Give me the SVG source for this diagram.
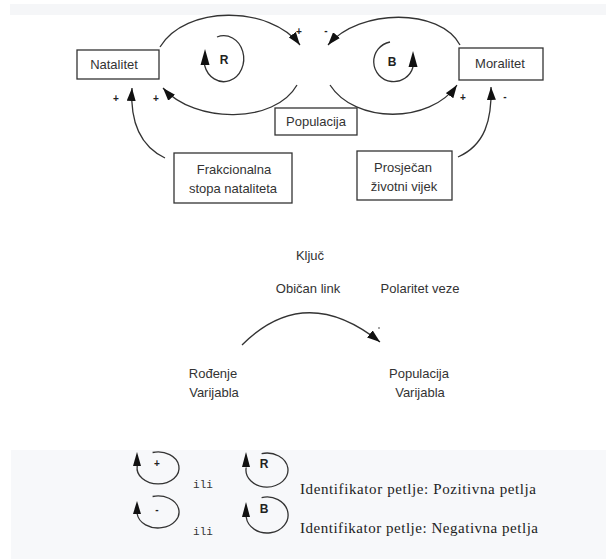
<svg xmlns="http://www.w3.org/2000/svg" width="606" height="559" viewBox="0 0 606 559">
<style>
.box{fill:#fff;stroke:#333;stroke-width:1.3}
.lbl{font-family:"Liberation Sans",Arial,sans-serif;font-size:13px;fill:#333;text-anchor:middle}
.sign{font-family:"Liberation Sans",Arial,sans-serif;font-size:10px;font-weight:bold;fill:#222;text-anchor:middle}
.loopl{font-family:"Liberation Sans",Arial,sans-serif;font-size:12px;font-weight:bold;fill:#222;text-anchor:middle}
.link{fill:none;stroke:#333;stroke-width:1.3}
.head{fill:#111}
.ser{font-family:"Liberation Serif","Times New Roman",serif;font-size:15px;fill:#222}
.mono{font-family:"Liberation Mono","Courier New",monospace;font-size:11px;fill:#333;text-anchor:middle}
</style>
<defs>
<marker id="ah" markerUnits="userSpaceOnUse" markerWidth="13" markerHeight="9" refX="13" refY="4.5" orient="auto">
<path d="M0,0 L13,4.5 L0,9 z" fill="#111"/>
</marker>
</defs>
<rect width="606" height="559" fill="#fff"/>
<rect x="10" y="4" width="596" height="11" fill="#f5f6f8"/>
<rect x="11" y="450" width="595" height="109" fill="#f7f8fa"/>

<g id="connectors">
<path class="link" d="M160,47 C185,5 270,5 300,45" marker-end="url(#ah)"/>
<path class="link" d="M297,85 C275,124 195,124 163,88" marker-end="url(#ah)"/>
<path class="link" d="M460,45 C440,8 360,8 328,45" marker-end="url(#ah)"/>
<path class="link" d="M330,85 C355,124 430,124 457,85" marker-end="url(#ah)"/>
<path class="link" d="M165,158 C140,146 130,122 132,88" marker-end="url(#ah)"/>
<path class="link" d="M458,157 C485,145 492,120 491,87" marker-end="url(#ah)"/>
<path class="link" d="M242,345 Q305,282 380,342" marker-end="url(#ah)"/>
</g>

<g id="loop-R">
<path class="link" d="M217,37 A20,23 0 1 1 204.5,65"/>
<polygon class="head" points="205,49 200.5,65 209.5,65"/>
<text class="loopl" x="224" y="64">R</text>
</g>
<g id="loop-B">
<path class="link" d="M390,42 A20,20 0 1 0 413,67"/>
<polygon class="head" points="413,51 408.5,67 417.5,67"/>
<text class="loopl" x="392" y="66">B</text>
</g>

<g id="natalitet">
<rect class="box" x="77" y="50" width="82" height="29"/>
<text class="lbl" x="114" y="69">Natalitet</text>
</g>
<g id="moralitet">
<rect class="box" x="459" y="48" width="84" height="32"/>
<text class="lbl" x="500" y="68">Moralitet</text>
</g>
<g id="populacija">
<rect class="box" x="275" y="108" width="82" height="27"/>
<text class="lbl" x="316" y="126">Populacija</text>
</g>
<g id="frakcionalna">
<rect class="box" x="174" y="153" width="118" height="50"/>
<text class="lbl" x="234" y="174">Frakcionalna</text>
<text class="lbl" x="233" y="193">stopa nataliteta</text>
</g>
<g id="prosjecan">
<rect class="box" x="357" y="151" width="95" height="49"/>
<text class="lbl" x="403" y="172">Prosječan</text>
<text class="lbl" x="404" y="191">životni vijek</text>
</g>

<g id="polarities">
<text class="sign" x="299" y="35">+</text>
<text class="sign" x="326" y="34">-</text>
<text class="sign" x="116" y="102">+</text>
<text class="sign" x="156" y="102">+</text>
<text class="sign" x="463" y="101">+</text>
<text class="sign" x="505" y="100">-</text>
</g>

<g id="key">
<text class="lbl" x="310" y="260">Ključ</text>
<text class="lbl" x="308" y="293">Običan link</text>
<text class="lbl" x="420" y="293">Polaritet veze</text>
<circle cx="379" cy="328" r="0.8" fill="#333"/>
<text class="lbl" x="213" y="378">Rođenje</text>
<text class="lbl" x="214" y="397">Varijabla</text>
<text class="lbl" x="419" y="378">Populacija</text>
<text class="lbl" x="420" y="397">Varijabla</text>
</g>

<g id="legend-loops">
<path class="link" d="M152.6,452.5 A21,16 0 1 1 137.2,466"/>
<polygon class="head" points="137,452 133,466 141,466"/>
<text class="sign" x="157" y="467">+</text>
<text class="mono" x="203" y="488">ili</text>
<path class="link" d="M261.6,453.6 A21,17 0 1 1 246.2,467.5"/>
<polygon class="head" points="246,452 242,467 250,467"/>
<text class="loopl" x="264" y="468">R</text>
<text class="ser" x="300" y="494" textLength="236">Identifikator petlje: Pozitivna petlja</text>

<path class="link" d="M152.6,496.5 A21,16 0 1 1 137.2,514"/>
<polygon class="head" points="137,501 133,514 141,514"/>
<text class="sign" x="157" y="513">-</text>
<text class="mono" x="203" y="535">ili</text>
<path class="link" d="M261.6,497.6 A21,18 0 1 1 246.2,517"/>
<polygon class="head" points="246,502 242,517 250,517"/>
<text class="loopl" x="264" y="513">B</text>
<text class="ser" x="300" y="533" textLength="238">Identifikator petlje: Negativna petlja</text>
</g>
</svg>
